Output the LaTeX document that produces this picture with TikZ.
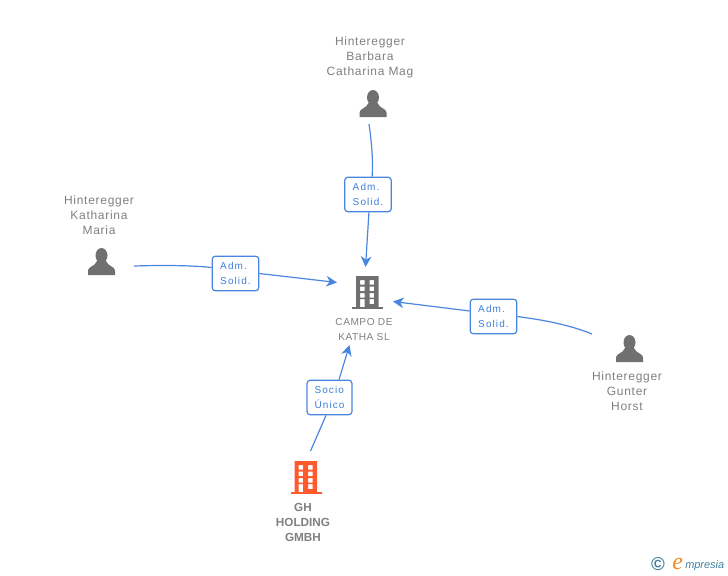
\documentclass[tikz,border=0pt]{standalone}
\usepackage{fontspec}
\usetikzlibrary{arrows.meta}
\newfontfamily\namefont[LetterSpace=6]{Liberation Sans}
\newfontfamily\firmfont[LetterSpace=5]{Liberation Sans}
\newfontfamily\badgefont[LetterSpace=11]{Liberation Sans}
\newfontfamily\plainfont{Liberation Sans}
\newfontfamily\logofont{Liberation Serif}
\definecolor{icongray}{HTML}{707070}
\definecolor{textgray}{HTML}{808080}
\definecolor{linkblue}{HTML}{4A86E0}
\definecolor{roleblue}{HTML}{3F7FDC}
\definecolor{firmorange}{HTML}{FF5A2C}
\definecolor{logoblue}{HTML}{3F7F9F}
\definecolor{logoorange}{HTML}{F08A1E}
\tikzset{
    personname/.style={text=textgray, align=center, inner sep=0pt, font=\namefont\fontsize{9}{11.25}\selectfont},
    firmname/.style={text=textgray, align=center, inner sep=0pt, font=\firmfont\fontsize{7.6}{11.25}\selectfont},
    mainname/.style={text=textgray, align=center, inner sep=0pt, font=\plainfont\bfseries\fontsize{8.8}{11.25}\selectfont},
    rolebox/.style={draw=linkblue, fill=white, line width=0.9pt, rounded corners=2.5pt, minimum width=35pt, minimum height=26pt, inner sep=0pt, align=left, text=roleblue, font=\badgefont\fontsize{7.5}{11.25}\selectfont},
    link/.style={draw=linkblue, line width=0.9pt},
    linkarrow/.style={link, -{Stealth[length=8pt, width=8pt, inset=2.5pt]}},
    person/.pic={
        \fill[icongray] (0,-6.5) ellipse (6 and 7.5);
        \fill[icongray] (-13.5,13) -- (-13.5,8.5) .. controls (-13.5,4.5) and (-6.5,4.5) .. (-4.5,-1) -- (4.5,-1) .. controls (6.5,4.5) and (13.5,4.5) .. (13.5,8.5) -- (13.5,13) -- cycle;
    },
    building/.pic={
        \fill[even odd rule, pic actions] (-11.5,-16.5) rectangle (11,16)
            (-7.5,-12.5) rectangle (-3,-8) (2,-12.5) rectangle (6.5,-8)
            (-7.5,-6) rectangle (-3,-1.5) (2,-6) rectangle (6.5,-1.5)
            (-7.5,0.5) rectangle (-3,5) (2,0.5) rectangle (6.5,5)
            (-7.5,6.5) rectangle (-3,15) (2,6.5) rectangle (6.5,11.5);
        \fill[pic actions] (-15.5,14.5) rectangle (15.5,16.5);
    }
}
\begin{document}
\begin{tikzpicture}[x=0.75pt, y=-0.75pt]
    \useasboundingbox (0,0) rectangle (728,575);

    % People: name, then icon
    \node[personname] (namebarbara) at (370,57) {Hinteregger\\Barbara\\Catharina Mag};
    \node[personname] (namekatharina) at (99,215) {Hinteregger\\Katharina\\Maria};
    \node[personname] (namegunter) at (627,391) {Hinteregger\\Gunter\\Horst};
    \foreach \iconx/\icony in {373/104, 101.5/262, 629.5/349} {
        \pic at (\iconx,\icony) {person};
    }

    % Companies
    \pic[fill=icongray] at (367.5,292.5) {building};
    \pic[fill=firmorange] at (306,477.5) {building};
    \node[firmname] (namecampo) at (364,329.5) {CAMPO DE\\KATHA SL};
    \node[mainname] (namegh) at (303,522) {GH\\HOLDING\\GMBH};

    % Role boxes
    \node[rolebox] (boxbarbara) at (368,194.5) {Adm.\\Solid.};
    \node[rolebox] (boxkatharina) at (235.5,273.5) {Adm.\\Solid.};
    \node[rolebox] (boxgunter) at (493.5,316.5) {Adm.\\Solid.};
    \node[rolebox, minimum width=33.75pt] (boxgh) at (329.5,397.5) {Socio\\Único};

    % Free ends of the connectors
    \coordinate (frombarbara) at (369,124);
    \coordinate (tobarbara) at (365.5,267);
    \coordinate (fromkatharina) at (134,266);
    \coordinate (tokatharina) at (337,282.5);
    \coordinate (fromgunter) at (592,334);
    \coordinate (togunter) at (393,301.5);
    \coordinate (fromgh) at (310.5,451);
    \coordinate (togh) at (349.5,345);

    % Connectors
    \draw[link] (frombarbara) .. controls (372,145) and (373,160) .. (boxbarbara.77);
    \draw[linkarrow] (boxbarbara.-87) -- (tobarbara);
    \draw[link] (fromkatharina) .. controls (165,265) and (195,265.5) .. (boxkatharina.166);
    \draw[linkarrow] (boxkatharina.east) -- (tokatharina);
    \draw[link] (fromgunter) .. controls (565,323) and (535,319) .. (boxgunter.east);
    \draw[linkarrow] (boxgunter.167) -- (togunter);
    \draw[link] (fromgh) -- (boxgh.-101);
    \draw[linkarrow] (boxgh.62) -- (togh);

    % Logo
    \node[inner sep=0pt, text=logoblue, font=\plainfont\bfseries\fontsize{14}{14}\selectfont] (logomark) at (658,564) {©};
    \node[inner sep=0pt, anchor=base west, text=logoorange, font=\logofont\itshape\fontsize{18}{18}\selectfont] (logoe) at (672,569) {e};
    \node[inner sep=0pt, anchor=base west, text=logoblue, font=\plainfont\itshape\fontsize{8.2}{8.2}\selectfont] (logotext) at (685,568) {mpresia};
\end{tikzpicture}
\end{document}
